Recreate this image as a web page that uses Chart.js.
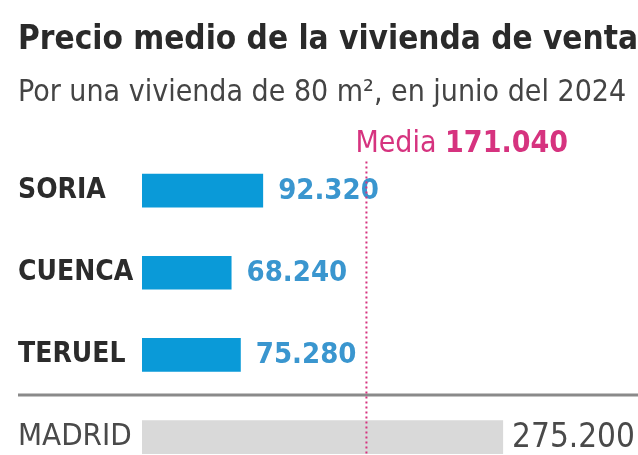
<!DOCTYPE html>
<html>
<head>
<meta charset="utf-8">
<script src="https://cdn.jsdelivr.net/npm/chart.js@4"></script>
<style>
  html, body { margin: 0; padding: 0; background: #fff; }
  #wrap { width: 638px; height: 455px; overflow: hidden; }
</style>
</head>
<body>
<div id="wrap"><canvas id="chart" width="638" height="495"></canvas></div>
<script>
const provincias = ['SORIA', 'CUENCA', 'TERUEL', 'MADRID'];
const precios = [92320, 68240, 75280, 275200];
const etiquetasValor = ['92.320', '68.240', '75.280', '275.200'];
const media = 171040;
const mediaTexto = ['Media ', '171.040'];

const FONT = "'Liberation Sans Narrow', 'DejaVu Sans Condensed', 'Roboto Condensed', 'Open Sans Condensed', sans-serif";
const blue = '#0a9ad8';
const pink = '#d6337f';

// value labels, separator line and the dotted average line
const extras = {
  id: 'extras',
  afterDatasetsDraw(chart) {
    const { ctx, chartArea, scales: { x, y } } = chart;
    const meta = chart.getDatasetMeta(0);
    ctx.save();
    ctx.textBaseline = 'middle';
    meta.data.forEach((bar, i) => {
      const madrid = i === 3;
      ctx.font = madrid ? '33px ' + FONT : 'bold 29px ' + FONT;
      ctx.fillStyle = madrid ? '#4a4a4a' : '#3a96cf';
      ctx.fillText(etiquetasValor[i], bar.x + (madrid ? 9 : 15), bar.y + 1);
    });

    // separator above Madrid
    const sepY = y.getPixelForValue(2.5) - 1;
    ctx.strokeStyle = '#8a8a8a';
    ctx.lineWidth = 3;
    ctx.beginPath();
    ctx.moveTo(18, sepY);
    ctx.lineTo(chart.width, sepY);
    ctx.stroke();

    // average line
    const mx = x.getPixelForValue(media);
    ctx.strokeStyle = pink;
    ctx.lineWidth = 2;
    ctx.setLineDash([2, 3]);
    ctx.beginPath();
    ctx.moveTo(mx, chartArea.top + 12);
    ctx.lineTo(mx, chart.height);
    ctx.stroke();
    ctx.setLineDash([]);

    ctx.textBaseline = 'alphabetic';
    ctx.fillStyle = pink;
    ctx.font = '30px ' + FONT;
    const tx = mx - 11;
    ctx.fillText(mediaTexto[0], tx, chartArea.top + 2);
    const w = ctx.measureText(mediaTexto[0]).width;
    ctx.font = 'bold 30px ' + FONT;
    ctx.fillText(mediaTexto[1], tx + w, chartArea.top + 2);
    ctx.restore();
  }
};

new Chart(document.getElementById('chart'), {
  type: 'bar',
  data: {
    labels: provincias,
    datasets: [{
      data: precios,
      backgroundColor: [blue, blue, blue, '#d9d9d9'],
      borderWidth: 0,
      categoryPercentage: 1,
      barPercentage: 0.41
    }]
  },
  options: {
    indexAxis: 'y',
    responsive: false,
    animation: false,
    layout: { padding: { left: 18, right: 0, top: 0, bottom: 2 } },
    plugins: {
      legend: { display: false },
      tooltip: { enabled: false },
      title: {
        display: true,
        text: 'Precio medio de la vivienda de venta',
        align: 'start',
        color: '#2a2a2a',
        font: { family: FONT, size: 34.5, weight: 'bold', lineHeight: 1 },
        padding: { top: 23, bottom: 0 }
      },
      subtitle: {
        display: true,
        text: 'Por una vivienda de 80 m², en junio del 2024',
        align: 'start',
        color: '#444',
        font: { family: FONT, size: 30, lineHeight: 1 },
        padding: { top: 21, bottom: 41 }
      }
    },
    scales: {
      x: {
        display: false,
        min: 0,
        max: 378000
      },
      y: {
        afterFit: (scale) => { scale.width = 124; },
        grid: { display: false },
        border: { display: false },
        ticks: {
          crossAlign: 'far',
          padding: 0,
          color: (c) => c.index === 3 ? '#4a4a4a' : '#2b2b2b',
          font: (c) => c.index === 3
            ? { family: FONT, size: 31, weight: 'normal' }
            : { family: FONT, size: 28, weight: 'bold' }
        }
      }
    }
  },
  plugins: [extras]
});
</script>
</body>
</html>
